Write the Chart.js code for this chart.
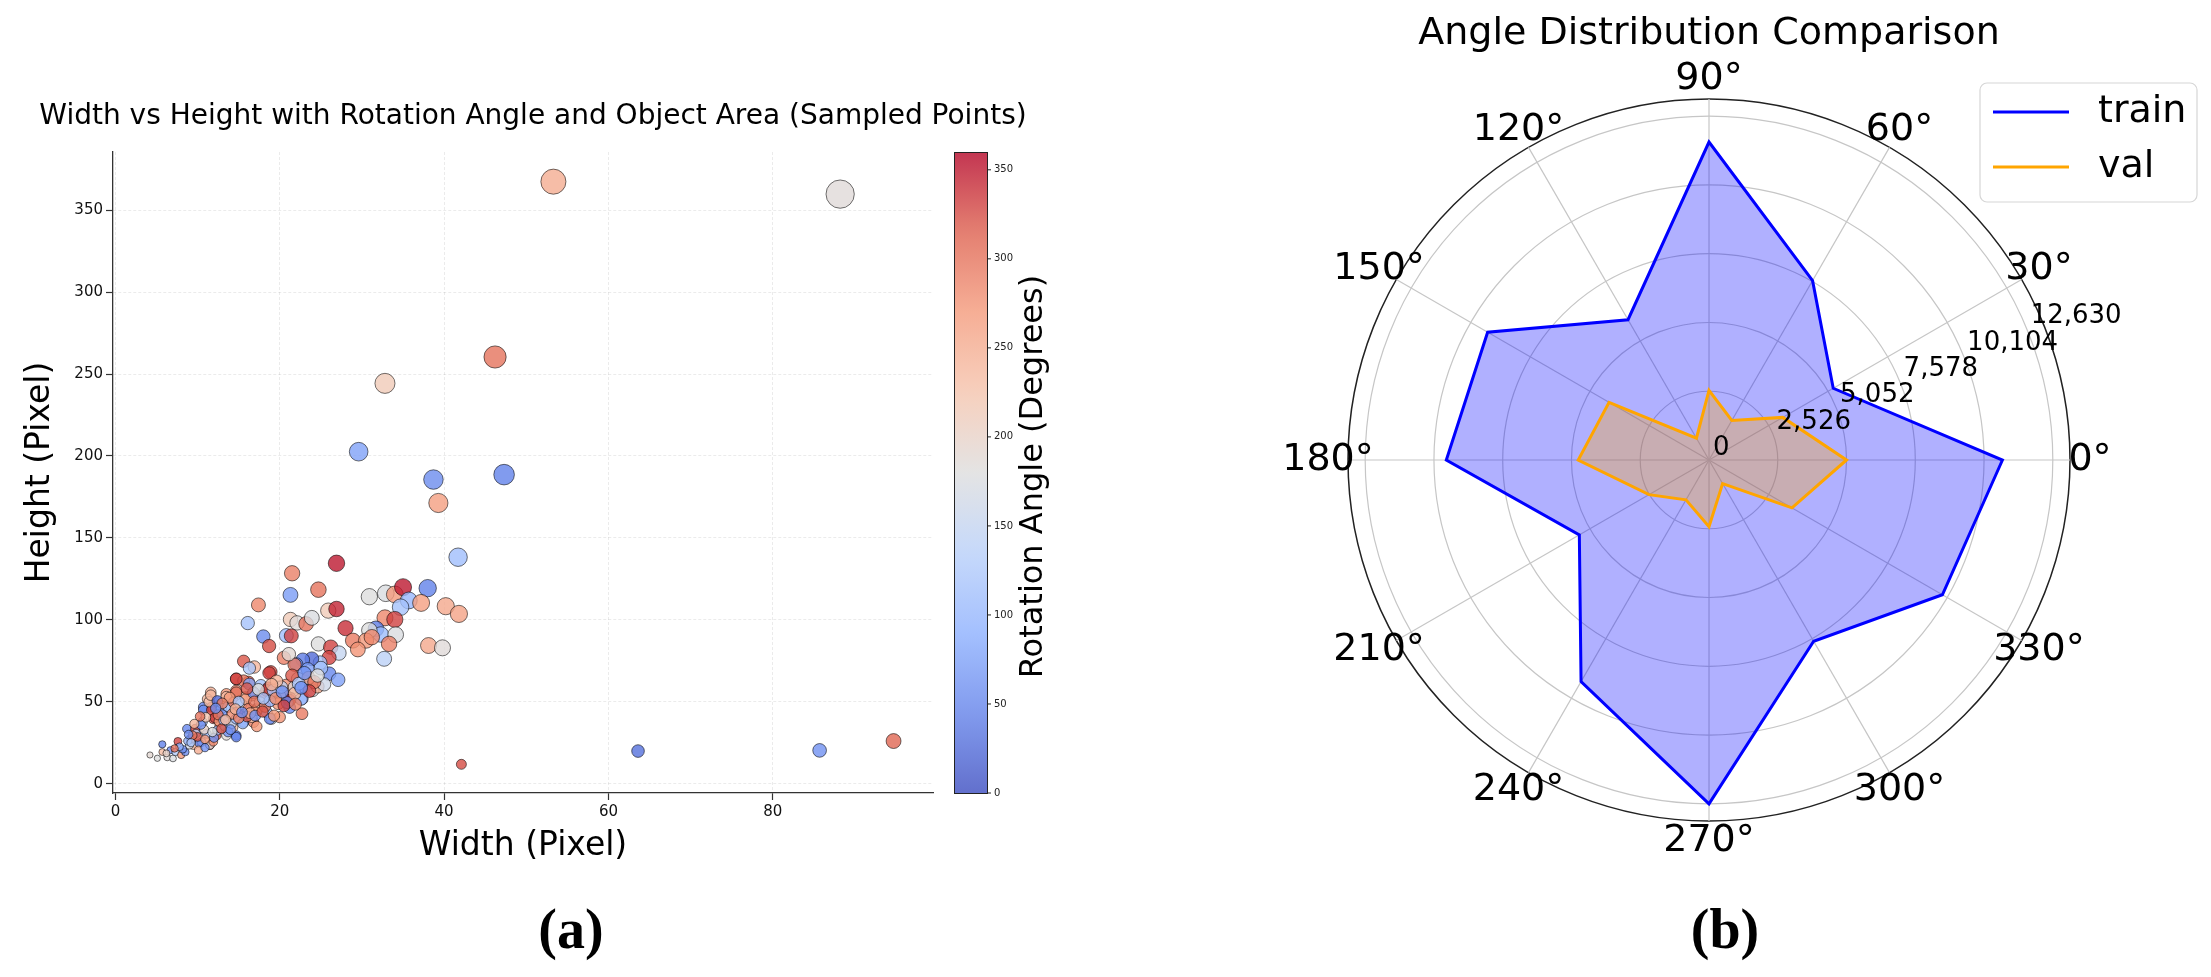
<!DOCTYPE html>
<html>
<head>
<meta charset="utf-8">
<script src="https://cdn.jsdelivr.net/npm/chart.js@4.4.1/dist/chart.umd.min.js"></script>
<style>
  body { margin: 0; background: #fff; width: 2211px; height: 977px; position: relative; overflow: hidden; }
  canvas { position: absolute; top: 0; }
  .sub { position: absolute; top: 901px; width: 200px; text-align: center;
         font: bold 56px/56px "Liberation Serif", serif; color: #000; }
</style>
</head>
<body>
<canvas id="scatter" width="1100" height="900" style="left:0"></canvas>
<canvas id="radar" width="961" height="977" style="left:1250px"></canvas>
<div class="sub" style="left:471px">(a)</div>
<div class="sub" style="left:1625px">(b)</div>

<script>
// ---- panel (a): sampled boxes ----
const widthPx = [53.3, 88.2, 46.2, 32.8, 29.6, 38.7, 47.3, 39.3, 41.7, 42.1, 63.6, 85.7, 94.7,
  26.9, 21.5, 21.3, 24.7, 17.4, 16.1, 18.0, 18.7, 15.6, 21.3, 22.1, 23.2, 23.9, 25.9, 26.9, 20.8,
  21.4, 24.7, 26.2, 28.0, 30.9, 32.9, 34.0, 35.0, 38.0, 35.7, 34.7, 37.2, 40.2, 41.8, 32.8, 34.0,
  31.7, 32.3, 34.1, 30.9, 33.3, 28.9, 30.5, 29.5, 31.2, 38.1, 39.8, 32.7, 27.2, 26.0, 24.9, 26.0,
  27.1, 23.9, 22.8, 22.0, 23.4, 20.5, 21.8, 21.1, 18.9, 16.9, 16.3, 14.7, 16.2, 15.6, 16.3, 17.7,
  18.6, 19.2, 20.0, 20.8, 21.8, 22.2, 23.0, 24.0, 24.6, 25.4, 21.3, 22.7, 21.2, 22.7, 20.7, 20.0,
  19.2, 18.4, 17.8, 16.6, 15.8, 14.7, 13.5, 11.6, 11.2, 10.7, 11.7, 12.9, 13.7, 14.9, 15.9, 17.2,
  18.4, 19.0, 20.0, 16.8, 15.6, 14.7, 14.3, 12.7, 11.9, 13.5, 12.3, 11.5, 10.5, 9.9, 9.1, 8.7,
  9.5, 7.6, 6.7, 5.7, 5.7, 4.2, 5.1, 6.3, 7.0, 7.3, 8.0, 8.5, 9.0, 9.3, 9.7, 10.2, 9.8, 10.6,
  10.7, 11.1, 11.5, 11.9, 11.7, 11.4, 11.6, 12.1, 12.4, 13.3, 12.9, 13.5, 13.7, 14.1, 14.7, 14.4,
  14.7, 13.9, 15.5, 15.3, 15.9, 16.2, 16.6, 17.2, 17.2, 14.7, 13.7, 14.7, 18.7, 18.4, 19.2, 20.2,
  19.8, 21.2, 20.9, 22.6, 18.8, 19.3, 8.2, 8.8, 10.0, 10.8, 12.0, 12.6, 13.0, 9.4, 10.4, 11.0,
  16.0, 17.6, 18.2, 14.2, 12.4, 16.8, 19.6, 21.5, 23.5, 25.0, 10.1, 7.8,
  12.5, 13.2, 14.0, 15.0, 16.4, 17.0, 17.9, 18.8, 19.5, 20.5, 21.8, 22.3, 23.0, 24.2, 19.0, 17.4,
  16.0, 15.0, 13.0, 12.2, 10.3, 9.6, 8.9, 10.9, 11.8, 12.9, 14.6, 15.4, 16.9, 18.0, 20.3, 21.9,
  23.6, 24.6, 22.6, 9.2, 7.2, 6.2, 10.9, 13.4];
const heightPx = [367.4, 359.8, 260.4, 244.3, 202.6, 185.6, 188.6, 171.3, 138.2, 11.8, 19.9, 20.3, 26.0,
  134.5, 128.4, 115.2, 118.4, 109.1, 98.0, 89.8, 84.0, 74.7, 100.2, 98.1, 97.5, 101.2, 105.6, 106.6, 90.4,
  90.2, 85.3, 83.3, 94.9, 114.1, 116.2, 115.5, 119.9, 119.3, 111.8, 107.7, 110.3, 108.3, 103.6, 101.2, 100.2,
  94.5, 91.0, 90.9, 93.6, 85.3, 87.3, 87.3, 81.9, 89.4, 84.3, 82.9, 76.2, 79.7, 77.0, 73.8, 67.1,
  63.4, 76.2, 75.6, 72.8, 69.8, 76.8, 72.6, 79.0, 68.2, 71.2, 70.5, 64.0, 62.0, 62.8, 60.8, 59.9,
  58.4, 57.0, 59.0, 60.0, 59.0, 64.0, 59.0, 57.0, 59.3, 60.6, 51.9, 51.9, 46.5, 42.7, 53.3, 53.3,
  55.7, 53.7, 53.3, 54.0, 52.6, 56.7, 54.7, 55.7, 51.6, 46.7, 46.7, 47.7, 46.7, 44.0, 46.7, 45.7,
  43.6, 39.6, 40.6, 37.5, 37.5, 29.4, 34.5, 35.6, 39.6, 29.4, 29.4, 23.4, 25.4, 31.5, 27.4, 33.5,
  23.4, 25.8, 20.4, 24.0, 19.3, 17.5, 15.5, 16.0, 15.4, 19.3, 17.5, 19.3, 23.6, 27.4, 33.5, 24.6, 30.5, 37.6,
  44.9, 30.5, 23.6, 25.6, 44.9, 50.0, 54.0, 40.2, 32.5, 35.2, 45.9, 53.0, 47.0, 36.6, 39.6, 49.6,
  55.6, 52.5, 36.6, 48.6, 51.6, 45.7, 40.6, 44.9, 34.9, 28.4, 31.5, 63.9, 67.5, 56.9, 56.9, 58.9,
  48.8, 50.8, 49.5, 51.6, 39.6, 41.5, 21.0, 26.0, 28.5, 33.0, 28.0, 38.0, 42.0, 29.5, 36.0, 40.5,
  41.0, 49.5, 47.0, 42.5, 50.5, 55.5, 62.5, 66.0, 64.5, 70.5, 20.5, 22.5,
  42.0, 38.5, 33.0, 40.0, 43.0, 41.5, 44.0, 50.5, 52.0, 47.5, 55.0, 61.0, 67.5, 62.0, 60.5, 57.5,
  58.0, 50.0, 49.0, 46.0, 41.0, 36.5, 30.0, 27.0, 31.5, 33.5, 45.5, 43.5, 50.0, 52.0, 56.0, 48.5,
  56.5, 66.0, 58.5, 25.0, 21.5, 18.5, 22.0, 39.0];
const rotationDeg = [250, 185, 300, 215, 75, 55, 45, 265, 110, 325, 30, 60, 310,
  350, 290, 70, 300, 285, 115, 55, 325, 320, 215, 185, 300, 175, 215, 345, 110,
  330, 180, 330, 340, 180, 175, 270, 350, 45, 100, 115, 265, 255, 260, 285, 330,
  40, 105, 175, 180, 290, 295, 270, 275, 285, 255, 185, 140, 150, 330, 120, 50,
  75, 25, 40, 55, 70, 290, 295, 190, 325, 240, 120, 320, 315, 300, 80, 115,
  335, 60, 150, 280, 190, 185, 55, 175, 250, 160, 340, 65, 50, 295, 295, 230,
  310, 240, 290, 270, 240, 290, 270, 245, 235, 45, 320, 305, 120, 355, 265, 285,
  110, 180, 275, 290, 60, 40, 235, 300, 325, 185, 320, 325, 110, 55, 60, 50,
  240, 330, 55, 45, 235, 190, 180, 185, 175, 130, 270, 55, 170, 270, 325, 50, 140, 110,
  55, 105, 180, 285, 330, 230, 240, 330, 115, 110, 105, 235, 120, 145, 110, 300,
  300, 270, 105, 180, 265, 290, 230, 270, 270, 50, 60, 330, 330, 330, 120, 150,
  270, 350, 50, 110, 50, 270, 60, 100, 320, 200, 60, 270, 60, 300, 60, 220,
  320, 200, 300, 280, 20, 60, 240, 320, 250, 110, 250, 90,
  300, 115, 60, 290, 250, 60, 320, 100, 280, 330, 240, 120, 60, 300, 250, 180,
  320, 120, 290, 60, 300, 240, 60, 270, 180, 320, 240, 60, 300, 120, 60, 290,
  330, 180, 60, 120, 300, 200, 60, 240];
const xTicks = [0, 20, 40, 60, 80];
const yTicks = [0, 50, 100, 150, 200, 250, 300, 350];
const colorbarTicks = [0, 50, 100, 150, 200, 250, 300, 350];

// ---- panel (b): angle histogram, bins at 0°, 30°, ... 330° ----
const angleBins = [0, 30, 60, 90, 120, 150, 180, 210, 240, 270, 300, 330];
const trainCounts = [10780, 5270, 7610, 11680, 5950, 9390, 9650, 5500, 9400, 12630, 7690, 9900];
const valCounts = [5050, 3130, 1675, 2560, 923, 4240, 4805, 2546, 1691, 2452, 1000, 3520];
const rTicks = [0, 2526, 5052, 7578, 10104, 12630];

const FONT = '"DejaVu Sans", sans-serif';
Chart.defaults.font.family = FONT;

// matplotlib coolwarm, sampled at 9 points
const coolwarmStops = [[59,76,192],[98,130,234],[141,176,254],[184,208,249],[221,221,221],
                       [245,196,173],[244,154,123],[222,96,77],[180,4,38]];
function coolwarm(t, alpha) {
  t = Math.min(1, Math.max(0, t));
  const p = t * (coolwarmStops.length - 1);
  const i = Math.min(Math.floor(p), coolwarmStops.length - 2);
  const f = p - i;
  const a = coolwarmStops[i], b = coolwarmStops[i + 1];
  const c = a.map((v, k) => Math.round(v + (b[k] - v) * f));
  return `rgba(${c[0]},${c[1]},${c[2]},${alpha})`;
}

// title + colorbar for the scatter
const scatterDecor = {
  id: 'scatterDecor',
  afterDraw(chart, args, opts) {
    const { ctx, chartArea: a } = chart;
    ctx.save();
    ctx.fillStyle = '#000';
    ctx.font = `28px ${FONT}`;
    ctx.textAlign = 'center';
    ctx.textBaseline = 'alphabetic';
    ctx.fillText(opts.title, opts.titleX, opts.titleY);

    // colorbar
    const x0 = a.right + 21, x1 = a.right + 54;
    const grad = ctx.createLinearGradient(0, a.bottom, 0, a.top);
    for (let i = 0; i <= 36; i++) grad.addColorStop(i / 36, coolwarm(i / 36, 0.8));
    ctx.fillStyle = grad;
    ctx.fillRect(x0, a.top, x1 - x0, a.bottom - a.top);
    ctx.strokeStyle = '#222';
    ctx.lineWidth = 1;
    ctx.strokeRect(x0 + 0.5, a.top + 0.5, x1 - x0, a.bottom - a.top);

    ctx.font = `10px ${FONT}`;
    ctx.textAlign = 'left';
    ctx.textBaseline = 'middle';
    ctx.fillStyle = '#222';
    colorbarTicks.forEach(v => {
      const y = a.bottom - v / 360 * (a.bottom - a.top);
      ctx.beginPath();
      ctx.moveTo(x1, y); ctx.lineTo(x1 + 4, y);
      ctx.stroke();
      ctx.fillText(String(v), x1 + 7, y);
    });

    ctx.save();
    ctx.translate(x1 + 47, (a.top + a.bottom) / 2 + 4);
    ctx.rotate(-Math.PI / 2);
    ctx.font = `32px ${FONT}`;
    ctx.textAlign = 'center';
    ctx.fillStyle = '#000';
    ctx.fillText(opts.colorbarLabel, 0, 0);
    ctx.restore();
    ctx.restore();
  }
};

new Chart(document.getElementById('scatter'), {
  type: 'bubble',
  data: {
    datasets: [{
      data: widthPx.map((w, i) => ({ x: w, y: heightPx[i], r: 1.06 * Math.pow(w * heightPx[i], 0.25) })),
      backgroundColor: rotationDeg.map(d => coolwarm(d / 360, 0.8)),
      borderColor: 'rgba(0,0,0,0.55)',
      borderWidth: 1
    }]
  },
  options: {
    responsive: false,
    animation: false,
    devicePixelRatio: 1,
    events: [],
    layout: { padding: { top: 152, right: 167, left: 0, bottom: 0 } },
    plugins: {
      legend: { display: false },
      tooltip: { enabled: false },
      scatterDecor: {
        title: 'Width vs Height with Rotation Angle and Object Area (Sampled Points)',
        titleX: 533, titleY: 124,
        colorbarLabel: 'Rotation Angle (Degrees)'
      }
    },
    scales: {
      x: {
        type: 'linear', min: -0.3, max: 99.5, bounds: 'data',
        afterBuildTicks: s => { s.ticks = xTicks.map(v => ({ value: v })); },
        afterFit: s => { s.height = 107; },
        grid: { color: 'rgba(0,0,0,0.08)', lineWidth: 1, tickLength: 7, tickColor: '#333', tickWidth: 1.2 },
        border: { color: '#333', width: 1.3, dash: [3, 2] },
        ticks: { font: { size: 15 }, color: '#111', padding: 3, maxRotation: 0 },
        title: { display: true, text: 'Width (Pixel)', font: { size: 33 }, color: '#000', padding: { top: 0, bottom: 34 } }
      },
      y: {
        type: 'linear', min: -5.7, max: 385.5, bounds: 'data',
        afterBuildTicks: s => { s.ticks = yTicks.map(v => ({ value: v })); },
        afterFit: s => { s.width = 113; },
        grid: { color: 'rgba(0,0,0,0.08)', lineWidth: 1, tickLength: 7, tickColor: '#333', tickWidth: 1.2 },
        border: { color: '#333', width: 1.3, dash: [3, 2] },
        ticks: { font: { size: 15 }, color: '#111', padding: 3 },
        title: { display: true, text: 'Height (Pixel)', font: { size: 33 }, color: '#000', padding: { top: 21, bottom: 0 } }
      }
    }
  },
  plugins: [scatterDecor]
});

// ---- radar ----
// Chart.js goes clockwise from startAngle; matplotlib goes counter-clockwise from 0°
const order = angleBins.map((_, i) => (angleBins.length - i) % angleBins.length);
const rMax = 12630 * 1.05;

const radarDecor = {
  id: 'radarDecor',
  afterDraw(chart, args, opts) {
    const s = chart.scales.r, ctx = chart.ctx;
    ctx.save();
    ctx.fillStyle = '#000';
    // angle labels
    ctx.font = `38px ${FONT}`;
    ctx.textAlign = 'center';
    ctx.textBaseline = 'middle';
    chart.data.labels.forEach((lab, i) => {
      const p = s.getPointPosition(i, s.drawingArea + 20);
      ctx.fillText(lab, p.x, p.y);
    });
    // radial labels along 22.5°
    ctx.font = `26px ${FONT}`;
    ctx.textAlign = 'left';
    ctx.textBaseline = 'alphabetic';
    const th = 22.5 * Math.PI / 180;
    rTicks.forEach(v => {
      const d = s.getDistanceFromCenterForValue(v);
      ctx.fillText(v.toLocaleString('en-US'), s.xCenter + d * Math.cos(th) + 4, s.yCenter - d * Math.sin(th) - 5);
    });
    // title
    ctx.font = `38px ${FONT}`;
    ctx.textAlign = 'center';
    ctx.fillText(opts.title, s.xCenter, 44);
    // legend
    const bx = 730, by = 83, bw = 217, bh = 119, rad = 7;
    ctx.beginPath();
    ctx.moveTo(bx + rad, by);
    ctx.arcTo(bx + bw, by, bx + bw, by + bh, rad);
    ctx.arcTo(bx + bw, by + bh, bx, by + bh, rad);
    ctx.arcTo(bx, by + bh, bx, by, rad);
    ctx.arcTo(bx, by, bx + bw, by, rad);
    ctx.closePath();
    ctx.fillStyle = 'rgba(255,255,255,0.8)';
    ctx.fill();
    ctx.strokeStyle = '#d6d6d6';
    ctx.lineWidth = 1.2;
    ctx.stroke();
    ctx.textAlign = 'left';
    ctx.textBaseline = 'middle';
    chart.data.datasets.slice().sort((a, b) => a.legendIndex - b.legendIndex).forEach((ds, i) => {
      const y = 112 + i * 55;
      ctx.strokeStyle = ds.borderColor;
      ctx.lineWidth = 3;
      ctx.beginPath();
      ctx.moveTo(743, y); ctx.lineTo(819, y);
      ctx.stroke();
      ctx.fillStyle = '#000';
      ctx.fillText(ds.label, 848, y);
    });
    ctx.restore();
  }
};

new Chart(document.getElementById('radar'), {
  type: 'radar',
  data: {
    labels: order.map(i => angleBins[i] + '°'),
    datasets: [
      { label: 'train', legendIndex: 0, order: 1, data: order.map(i => trainCounts[i]),
        borderColor: '#0000ff', backgroundColor: 'rgba(0,0,255,0.31)', borderWidth: 3,
        fill: true, pointRadius: 0, tension: 0 },
      { label: 'val', legendIndex: 1, order: 0, data: order.map(i => valCounts[i]),
        borderColor: '#ffa500', backgroundColor: 'rgba(255,165,0,0.3)', borderWidth: 3,
        fill: true, pointRadius: 0, tension: 0 }
    ]
  },
  options: {
    responsive: false,
    animation: false,
    devicePixelRatio: 1,
    events: [],
    layout: { padding: { left: 98, top: 99, right: 141, bottom: 156 } },
    plugins: {
      legend: { display: false },
      tooltip: { enabled: false },
      radarDecor: { title: 'Angle Distribution Comparison' }
    },
    scales: {
      r: {
        min: 0, max: rMax, startAngle: 90,
        afterBuildTicks: s => { s.ticks = rTicks.concat([rMax]).map(v => ({ value: v })); },
        ticks: { display: false },
        pointLabels: { display: false },
        grid: {
          circular: true,
          color: c => (c.tick && c.tick.value === rMax) ? '#222' : '#c6c6c6',
          lineWidth: c => (c.tick && c.tick.value === rMax) ? 1.5 : 1.2
        },
        angleLines: { color: '#c6c6c6', lineWidth: 1.2 }
      }
    }
  },
  plugins: [radarDecor]
});
</script>
</body>
</html>
